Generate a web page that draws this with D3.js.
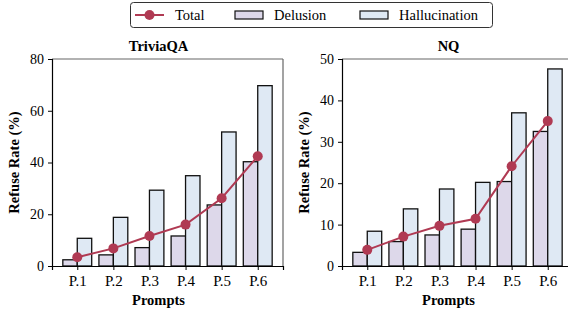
<!DOCTYPE html>
<html>
<head>
<meta charset="utf-8">
<script src="https://cdn.jsdelivr.net/npm/d3@7"></script>
<style>
  body { margin: 0; background: #fff; }
  svg { display: block; font-family: "Liberation Serif", "DejaVu Serif", serif; }
  .tick text { font-size: 14px; fill: #000; }
  .xaxis .tick text { font-size: 15px; }
  .axisTitle { font-size: 14.5px; font-weight: bold; }
</style>
</head>
<body>
<div id="chart"></div>
<script>
var svgWidth = 568;
var svgHeight = 311;

// data
var prompts = ["P.1", "P.2", "P.3", "P.4", "P.5", "P.6"];
var triviaDelusion = [2.4, 4.3, 7.1, 11.6, 23.6, 40.3];
var triviaHallucination = [10.7, 18.8, 29.3, 34.9, 51.8, 69.7];
var triviaTotal = [3.4, 6.8, 11.6, 16.0, 26.2, 42.4];
var nqDelusion = [3.3, 5.9, 7.5, 8.9, 20.4, 32.5];
var nqHallucination = [8.4, 13.8, 18.6, 20.2, 37.0, 47.6];
var nqTotal = [3.9, 7.1, 9.7, 11.4, 24.1, 35.0];
var triviaTicks = [0, 20, 40, 60, 80];
var nqTicks = [0, 10, 20, 30, 40, 50];

var colors = { total: "#b03a53", delusion: "#ddd8ea", hallucination: "#dfe9f4" };

var panelW = 231, panelH = 207, panelTop = 59;

var svg = d3.select("#chart")
  .append("svg")
  .attr("width", svgWidth)
  .attr("height", svgHeight);

function drawPanel(left, title, delusion, hallucination, total, ticks) {
  var g = svg.append("g").attr("transform", `translate(${left}, ${panelTop})`);

  var x = d3.scaleLinear().domain([-0.7, 5.7]).range([0, panelW]);
  var y = d3.scaleLinear().domain([0, d3.max(ticks)]).range([panelH, 0]);
  var barW = x(0.4) - x(0);

  // frame (top/right lighter)
  g.append("line").attr("x1", 0).attr("x2", panelW).attr("y1", 0).attr("y2", 0)
    .attr("stroke", "#666").attr("stroke-width", 1.2);
  g.append("line").attr("x1", panelW).attr("x2", panelW).attr("y1", 0).attr("y2", panelH)
    .attr("stroke", "#666").attr("stroke-width", 1.2);

  g.selectAll(".del").data(delusion).enter().append("rect")
    .attr("x", (d, i) => x(i) - barW)
    .attr("y", d => y(d))
    .attr("width", barW)
    .attr("height", d => y(0) - y(d))
    .attr("fill", colors.delusion)
    .attr("stroke", "#111").attr("stroke-width", 1.3);

  g.selectAll(".hal").data(hallucination).enter().append("rect")
    .attr("x", (d, i) => x(i))
    .attr("y", d => y(d))
    .attr("width", barW)
    .attr("height", d => y(0) - y(d))
    .attr("fill", colors.hallucination)
    .attr("stroke", "#111").attr("stroke-width", 1.3);

  var line = d3.line().x((d, i) => x(i)).y(d => y(d));
  g.append("path").datum(total)
    .attr("d", line)
    .attr("fill", "none")
    .attr("stroke", colors.total)
    .attr("stroke-width", 2);
  g.selectAll(".dot").data(total).enter().append("circle")
    .attr("cx", (d, i) => x(i))
    .attr("cy", d => y(d))
    .attr("r", 5)
    .attr("fill", colors.total);

  var xAxis = d3.axisBottom(x)
    .tickValues(d3.range(prompts.length))
    .tickFormat(i => prompts[i])
    .tickSize(4).tickPadding(5);
  g.append("g")
    .attr("class", "xaxis")
    .attr("transform", `translate(0, ${panelH})`)
    .call(xAxis)
    .call(a => a.select(".domain").attr("stroke", "#000").attr("stroke-width", 1.2));

  var yAxis = d3.axisLeft(y).tickValues(ticks).tickSize(4).tickPadding(4);
  g.append("g")
    .call(yAxis)
    .call(a => a.select(".domain").attr("stroke", "#000").attr("stroke-width", 1.2));

  g.selectAll("g").attr("font-family", null).attr("font-size", null);

  g.append("text")
    .attr("class", "axisTitle")
    .attr("x", panelW / 2 - 9)
    .attr("y", -8)
    .attr("text-anchor", "middle")
    .text(title);

  g.append("text")
    .attr("class", "axisTitle")
    .attr("x", panelW / 2 - 9)
    .attr("y", panelH + 39)
    .attr("text-anchor", "middle")
    .text("Prompts");

  g.append("text")
    .attr("class", "axisTitle")
    .attr("transform", "rotate(-90)")
    .attr("x", -panelH / 2)
    .attr("y", -33)
    .attr("text-anchor", "middle")
    .text("Refuse Rate (%)");
}

drawPanel(52, "TriviaQA", triviaDelusion, triviaHallucination, triviaTotal, triviaTicks);
drawPanel(342, "NQ", nqDelusion, nqHallucination, nqTotal, nqTicks);

// legend
var legend = svg.append("g").attr("font-size", 14.5);
legend.append("rect")
  .attr("x", 130.5).attr("y", 2.5).attr("width", 362).attr("height", 25)
  .attr("rx", 3).attr("fill", "#fff").attr("stroke", "#333").attr("stroke-width", 1);
legend.append("line").attr("x1", 135).attr("x2", 164).attr("y1", 15).attr("y2", 15)
  .attr("stroke", colors.total).attr("stroke-width", 2);
legend.append("circle").attr("cx", 149.5).attr("cy", 15).attr("r", 5).attr("fill", colors.total);
legend.append("text").attr("x", 175).attr("y", 20).text("Total");
legend.append("rect").attr("x", 235).attr("y", 11).attr("width", 28).attr("height", 8)
  .attr("fill", colors.delusion).attr("stroke", "#111").attr("stroke-width", 1.2);
legend.append("text").attr("x", 274).attr("y", 20).text("Delusion");
legend.append("rect").attr("x", 360).attr("y", 11).attr("width", 28).attr("height", 8)
  .attr("fill", colors.hallucination).attr("stroke", "#111").attr("stroke-width", 1.2);
legend.append("text").attr("x", 399).attr("y", 20).text("Hallucination");
</script>
</body>
</html>
